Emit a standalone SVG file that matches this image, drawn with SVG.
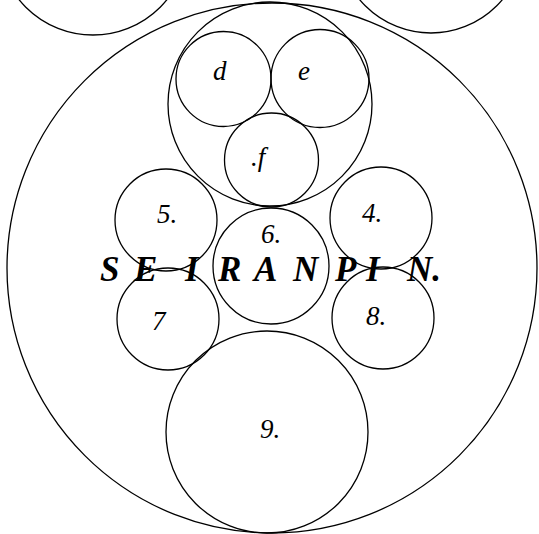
<svg xmlns="http://www.w3.org/2000/svg" width="539" height="534" viewBox="0 0 539 534">
<style>
.c{fill:none;stroke:#000;stroke-width:1.3}
.l{font-family:"Liberation Serif","DejaVu Serif",serif;font-style:italic;font-size:27px;fill:#000}
.t{font-family:"Liberation Serif","DejaVu Serif",serif;font-style:italic;font-weight:bold;font-size:35px;fill:#000}
</style>
<rect width="539" height="534" fill="#fff"/>
<g id="top-left"><circle class="c" cx="93" cy="-60" r="95"/></g>
<g id="top-right"><circle class="c" cx="431" cy="-60" r="93"/></g>
<g id="outer"><circle class="c" cx="272" cy="268" r="265"/></g>
<g id="upper"><circle class="c" cx="270" cy="104" r="102"/></g>
<g id="d"><circle class="c" cx="223.5" cy="79" r="47.5"/><text class="l" x="213" y="80">d</text></g>
<g id="e"><circle class="c" cx="320" cy="78.5" r="49"/><text class="l" x="298" y="80">e</text></g>
<g id="f"><circle class="c" cx="271.5" cy="160" r="47"/><text class="l" x="251" y="166">.f</text></g>
<g id="n5"><circle class="c" cx="166" cy="220" r="51"/><text class="l" x="157" y="223">5.</text></g>
<g id="n4"><circle class="c" cx="381" cy="218" r="51"/><text class="l" x="362" y="222">4.</text></g>
<g id="n6"><circle class="c" cx="271" cy="266" r="58"/><text class="l" x="261" y="243">6.</text></g>
<g id="n7"><circle class="c" cx="168" cy="319" r="51"/><text class="l" x="152" y="330">7</text></g>
<g id="n8"><circle class="c" cx="383" cy="318" r="51"/><text class="l" x="366" y="325">8.</text></g>
<g id="n9"><circle class="c" cx="267" cy="432" r="101"/><text class="l" x="260" y="438">9.</text></g>
<g id="connectors"></g>
<g id="title"><text class="t" x="100 134 185 218 254 293 335 366 407" y="281">SEIRANPIN.</text></g>
</svg>
